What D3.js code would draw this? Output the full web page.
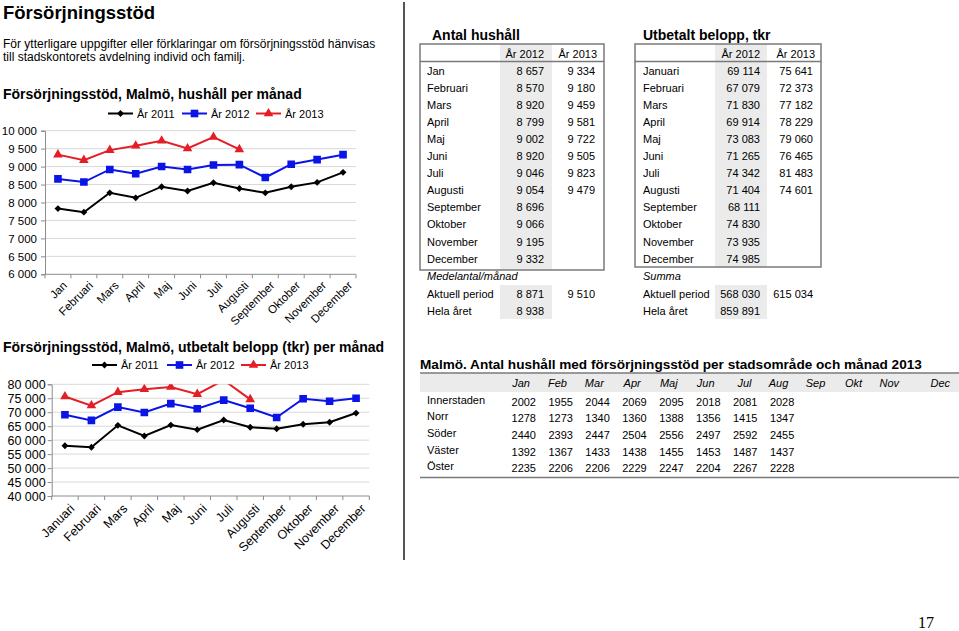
<!DOCTYPE html>
<html><head><meta charset="utf-8">
<script src="https://cdn.jsdelivr.net/npm/d3@7"></script>
<style>
body{margin:0;background:#fff;}
svg{display:block;font-family:"Liberation Sans",Arial,sans-serif;}
</style>
</head><body>
<svg id="c" width="959" height="631"></svg>
<script>
// ---------- DATA ----------
const monthsA = ["Jan","Februari","Mars","April","Maj","Juni","Juli","Augusti","September","Oktober","November","December"];
const monthsB = ["Januari","Februari","Mars","April","Maj","Juni","Juli","Augusti","September","Oktober","November","December"];
const monthsAbbr = ["Jan","Feb","Mar","Apr","Maj","Jun","Jul","Aug","Sep","Okt","Nov","Dec"];
const seriesNames = ["År 2011","År 2012","År 2013"];

const hh2011 = [7830,7730,8270,8130,8440,8320,8550,8390,8270,8440,8560,8840];
const hh2012 = [8657,8570,8920,8799,9002,8920,9046,9054,8696,9066,9195,9332];
const hh2013 = [9334,9180,9459,9581,9722,9505,9823,9479,null,null,null,null];

const amt2011 = [58000,57450,65300,61500,65400,63750,67200,64600,64100,65700,66400,69700];
const amt2012 = [69114,67079,71830,69914,73083,71265,74342,71404,68111,74830,73935,74985];
const amt2013 = [75641,72373,77182,78229,79060,76465,81483,74601,null,null,null,null];

const hhTicks = [6000,6500,7000,7500,8000,8500,9000,9500,10000];
const amtTicks = [40000,45000,50000,55000,60000,65000,70000,75000,80000];

const hhSummary = {label:"Medelantal/månad", rows:["Aktuell period","Hela året"], y2012:[8871,8938], y2013:[9510,null]};
const amtSummary = {label:"Summa", rows:["Aktuell period","Hela året"], y2012:[568030,859891], y2013:[615034,null]};

const areas = ["Innerstaden","Norr","Söder","Väster","Öster"];
const areaInnerstaden = [2002,1955,2044,2069,2095,2018,2081,2028];
const areaNorr = [1278,1273,1340,1360,1388,1356,1415,1347];
const areaSoder = [2440,2393,2447,2504,2556,2497,2592,2455];
const areaVaster = [1392,1367,1433,1438,1455,1453,1487,1437];
const areaOster = [2235,2206,2206,2229,2247,2204,2267,2228];
const areaValues = [areaInnerstaden,areaNorr,areaSoder,areaVaster,areaOster];

// ---------- SETUP ----------
const svg = d3.select("#c");
svg.append("rect").attr("width",959).attr("height",631).attr("fill","#fff");
const loc = d3.formatLocale({decimal:",",thousands:"\u00a0",grouping:[3],currency:["",""]});
const fmt = loc.format(",d");
const fmtS = v => fmt(v).replace(/\u00a0/g," ");

const colors = ["#000000","#0a14e6","#e31e24"];
const symbols = [d3.symbolDiamond2, d3.symbolSquare, d3.symbolTriangle];
const symSizes = [30, 58, 40];

// Texts
svg.append("text").attr("x",3).attr("y",19).attr("font-size",18.5).attr("font-weight","bold").text("Försörjningsstöd");
svg.append("text").attr("x",3).attr("y",48).attr("font-size",12).text("För ytterligare uppgifter eller förklaringar om försörjningsstöd hänvisas");
svg.append("text").attr("x",3).attr("y",61).attr("font-size",12).text("till stadskontorets avdelning individ och familj.");

// divider
svg.append("line").attr("x1",404).attr("x2",404).attr("y1",2).attr("y2",560).attr("stroke","#555").attr("stroke-width",2);

// page number
svg.append("text").attr("x",926).attr("y",628).attr("text-anchor","middle").attr("font-family","'Liberation Serif','Times New Roman',serif").attr("font-size",16).text("17");

// ---------- CHART FUNCTION ----------
function lineChart(cfg){
  const g = svg.append("g");
  g.append("text").attr("x",3).attr("y",cfg.titleY).attr("font-size",14).attr("font-weight","bold").text(cfg.title);
  cfg.legend.forEach((lx,i)=>{
    g.append("line").attr("x1",lx).attr("x2",lx+25).attr("y1",cfg.legendY).attr("y2",cfg.legendY)
      .attr("stroke",colors[i]).attr("stroke-width",2);
    g.append("path").attr("d",d3.symbol(symbols[i],symSizes[i])()).attr("transform",`translate(${lx+12.5},${cfg.legendY})`).attr("fill",colors[i]);
    g.append("text").attr("x",lx+29).attr("y",cfg.legendY+4).attr("font-size",11).text(seriesNames[i]);
  });
  const x = d3.scaleBand().domain(cfg.labels).range([cfg.x0,cfg.x1]).padding(0);
  const y = d3.scaleLinear().domain([cfg.ticks[0],cfg.ticks[cfg.ticks.length-1]]).range([cfg.yBot,cfg.yTop]);
  const cx = (d,i) => x(cfg.labels[i]) + x.bandwidth()/2;
  g.append("g").selectAll("line").data(cfg.ticks.slice(1)).join("line")
    .attr("x1",cfg.x0).attr("x2",cfg.x1).attr("y1",d=>y(d)).attr("y2",d=>y(d))
    .attr("stroke","#d9d9d9").attr("stroke-width",1);
  const ya = g.append("g").attr("transform",`translate(${cfg.x0},0)`)
    .call(d3.axisLeft(y).tickValues(cfg.ticks).tickSize(4).tickPadding(cfg.tickPad).tickFormat(fmtS));
  ya.select(".domain").attr("stroke","#8c8c8c");
  ya.selectAll(".tick line").attr("stroke","#8c8c8c");
  ya.selectAll("text").attr("font-size",cfg.fs).attr("font-family","'Liberation Sans',Arial,sans-serif").attr("fill","#000");
  g.append("line").attr("x1",cfg.x0).attr("x2",cfg.x1).attr("y1",cfg.yBot).attr("y2",cfg.yBot).attr("stroke","#8c8c8c");
  const bounds = cfg.labels.map(l=>x(l)).concat([cfg.x1]);
  g.append("g").selectAll("line").data(bounds).join("line")
    .attr("x1",d=>d).attr("x2",d=>d).attr("y1",cfg.yBot).attr("y2",cfg.yBot+4).attr("stroke","#8c8c8c");
  g.append("g").selectAll("text").data(cfg.labels).join("text")
    .attr("transform",d=>`translate(${x(d)+x.bandwidth()/2+4},${cfg.yBot+cfg.labOff}) rotate(-45)`)
    .attr("text-anchor","end").attr("dy","0.72em").attr("font-size",cfg.fs).text(d=>d);
  g.append("clipPath").attr("id",cfg.id).append("rect")
    .attr("x",cfg.x0-10).attr("y",cfg.yTop).attr("width",cfg.x1-cfg.x0+20).attr("height",cfg.yBot-cfg.yTop+10);
  const plot = g.append("g").attr("clip-path",`url(#${cfg.id})`);
  cfg.series.forEach((vals,si)=>{
    const line = d3.line().defined(v=>v!=null).x((v,i)=>cx(v,i)).y(v=>y(v));
    plot.append("path").datum(vals).attr("d",line).attr("fill","none").attr("stroke",colors[si]).attr("stroke-width",2);
    plot.append("g").selectAll("path").data(vals.map((v,i)=>({v,i})).filter(d=>d.v!=null)).join("path")
      .attr("d",d3.symbol(symbols[si],symSizes[si])())
      .attr("transform",d=>`translate(${cx(d.v,d.i)},${y(d.v)})`).attr("fill",colors[si]);
  });
}

lineChart({id:"clip1",title:"Försörjningsstöd, Malmö, hushåll per månad",titleY:98.5,legendY:113.5,legend:[108,182,256],
  labels:monthsA,ticks:hhTicks,series:[hh2011,hh2012,hh2013],x0:45,x1:356,yTop:130.7,yBot:274.3,fs:11.5,tickPad:4,labOff:6});
lineChart({id:"clip2",title:"Försörjningsstöd, Malmö, utbetalt belopp (tkr) per månad",titleY:352,legendY:365,legend:[92,167,241],
  labels:monthsB,ticks:amtTicks,series:[amt2011,amt2012,amt2013],x0:51.7,x1:369.3,yTop:384.3,yBot:496,fs:12.5,tickPad:2,labOff:7});

// ---------- TABLES ----------
function monthTable(cfg){
  const g = svg.append("g");
  const top = 44;
  g.append("text").attr("x",cfg.titleX).attr("y",40).attr("font-size",14).attr("font-weight","bold").text(cfg.title);
  g.append("rect").attr("x",cfg.band[0]).attr("y",top).attr("width",cfg.band[1]-cfg.band[0]).attr("height",cfg.bottom-top).attr("fill","#ebebeb");
  g.append("rect").attr("x",cfg.band[0]).attr("y",285).attr("width",cfg.band[1]-cfg.band[0]).attr("height",34).attr("fill","#ebebeb");
  g.append("rect").attr("x",cfg.box[0]).attr("y",top).attr("width",cfg.box[1]-cfg.box[0]).attr("height",cfg.bottom-top)
    .attr("fill","none").attr("stroke","#7a7a7a").attr("stroke-width",1.5);
  g.append("line").attr("x1",cfg.box[0]).attr("x2",cfg.box[1]).attr("y1",61.5).attr("y2",61.5).attr("stroke","#7a7a7a").attr("stroke-width",1.5);
  const fs = 11;
  g.append("text").attr("x",cfg.c1).attr("y",57.5).attr("text-anchor","end").attr("font-size",fs).text("År 2012");
  g.append("text").attr("x",cfg.c2+2).attr("y",57.5).attr("text-anchor","end").attr("font-size",fs).text("År 2013");
  const rowY = i => 74.5 + i*17.1;
  cfg.labels.forEach((l,i)=>{
    g.append("text").attr("x",cfg.labX).attr("y",rowY(i)).attr("font-size",fs).text(l);
    g.append("text").attr("x",cfg.c1).attr("y",rowY(i)).attr("text-anchor","end").attr("font-size",fs).text(fmtS(cfg.v1[i]));
    if(cfg.v2[i]!=null) g.append("text").attr("x",cfg.c2).attr("y",rowY(i)).attr("text-anchor","end").attr("font-size",fs).text(fmtS(cfg.v2[i]));
  });
  const s = cfg.summary;
  g.append("text").attr("x",cfg.labX).attr("y",280).attr("font-size",fs).attr("font-style","italic").text(s.label);
  s.rows.forEach((r,i)=>{
    const yy = 298 + i*17;
    g.append("text").attr("x",cfg.labX).attr("y",yy).attr("font-size",fs).text(r);
    g.append("text").attr("x",cfg.c1).attr("y",yy).attr("text-anchor","end").attr("font-size",fs).text(fmtS(s.y2012[i]));
    if(s.y2013[i]!=null) g.append("text").attr("x",cfg.c2).attr("y",yy).attr("text-anchor","end").attr("font-size",fs).text(fmtS(s.y2013[i]));
  });
}
monthTable({title:"Antal hushåll",titleX:432,box:[420,604],bottom:270,band:[500,552],labX:427,c1:544,c2:595,
  labels:monthsA,v1:hh2012,v2:hh2013,summary:hhSummary});
monthTable({title:"Utbetalt belopp, tkr",titleX:643,box:[635,821],bottom:267,band:[715,767],labX:643,c1:760,c2:813,
  labels:monthsB,v1:amt2012,v2:amt2013,summary:amtSummary});

// Area table
(function(){
  const g = svg.append("g");
  g.append("text").attr("x",420).attr("y",369).attr("font-size",13.6).attr("font-weight","bold")
    .text("Malmö. Antal hushåll med försörjningsstöd per stadsområde och månad 2013");
  g.append("rect").attr("x",420).attr("y",373).attr("width",539).attr("height",19).attr("fill","#ebebeb");
  g.append("line").attr("x1",420).attr("x2",959).attr("y1",373).attr("y2",373).attr("stroke","#7a7a7a").attr("stroke-width",1.5);
  g.append("line").attr("x1",420).attr("x2",959).attr("y1",477.5).attr("y2",477.5).attr("stroke","#7a7a7a").attr("stroke-width",1.5);
  const col = d3.scaleLinear().domain([0,11]).range([536,942]);
  const colR = i => col(i) + (i===11 ? 14 : 0);
  g.append("g").selectAll("text").data(monthsAbbr).join("text")
    .attr("x",(d,i)=>colR(i)-6).attr("y",386.5).attr("text-anchor","end").attr("font-size",11).attr("font-style","italic").text(d=>d);
  areas.forEach((a,r)=>{
    g.append("text").attr("x",427).attr("y",403.5+r*16.7).attr("font-size",11).text(a);
    g.append("g").selectAll("text").data(areaValues[r]).join("text")
      .attr("x",(d,i)=>colR(i)).attr("y",405.5+r*16.7).attr("text-anchor","end").attr("font-size",11).text(d=>d);
  });
})();
</script>
</body></html>
